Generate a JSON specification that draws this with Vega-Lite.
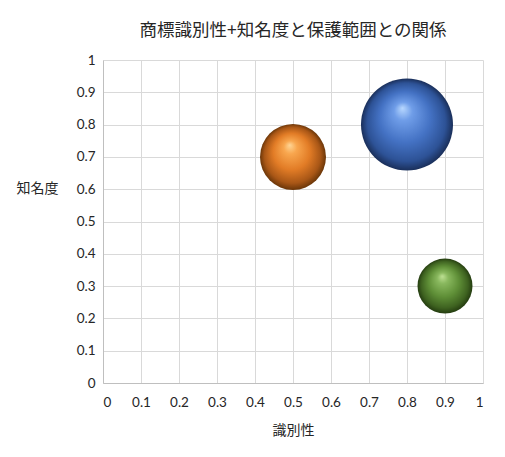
{
  "$schema": "https://vega.github.io/schema/vega-lite/v6.json",
  "width": 380,
  "height": 323,
  "autosize": {"type": "none"},
  "padding": {"left": 103, "top": 60, "right": 22, "bottom": 74},
  "background": "white",
  "config": {
    "font": "Lato, Noto Sans CJK JP",
    "view": {"stroke": null},
    "axis": {
      "gridColor": "#d9d9d9",
      "domainColor": "#bfbfbf",
      "ticks": false,
      "labelColor": "#262626",
      "titleColor": "#262626",
      "labelFont": "Lato, Noto Sans CJK JP",
      "titleFont": "Noto Sans CJK JP",
      "labelFontSize": 13.5,
      "titleFontSize": 14,
      "titleFontWeight": "normal"
    }
  },
  "title": {
    "text": "商標識別性+知名度と保護範囲との関係",
    "font": "Noto Sans CJK JP",
    "fontSize": 17.5,
    "fontWeight": "normal",
    "color": "#262626",
    "anchor": "middle",
    "frame": "group",
    "offset": 14
  },
  "data": {
    "values": [
      {"series": "A", "識別性": 0.8, "知名度": 0.8, "size": 28},
      {"series": "B", "識別性": 0.5, "知名度": 0.7, "size": 14.4},
      {"series": "C", "識別性": 0.9, "知名度": 0.3, "size": 10}
    ]
  },
  "encoding": {
    "x": {
      "field": "識別性", "type": "quantitative",
      "scale": {"domain": [0, 1], "nice": false},
      "axis": {"values": [0,0.1,0.2,0.3,0.4,0.5,0.6,0.7,0.8,0.9,1], "labelPadding": 12, "titleY": 47, "titleBaseline": "middle", "labelExpr": "datum.value === 0 ? '0' : datum.value === 1 ? '1' : datum.label"}
    },
    "y": {
      "field": "知名度", "type": "quantitative",
      "scale": {"domain": [0, 1], "nice": false},
      "axis": {"values": [0,0.1,0.2,0.3,0.4,0.5,0.6,0.7,0.8,0.9,1], "labelPadding": 8, "titleAngle": 0, "titleX": -66, "titleY": 128, "titleAlign": "center", "titleBaseline": "middle", "labelExpr": "datum.value === 0 ? '0' : datum.value === 1 ? '1' : datum.label"}
    },
    "size": {
      "field": "size", "type": "quantitative",
      "scale": {"domain": [0, 28], "range": [0, 8464]},
      "legend": null
    }
  },
  "layer": [
    {
      "transform": [{"filter": "datum.series === 'A'"}],
      "mark": {"type": "point", "shape": "circle", "filled": true, "opacity": 1,
        "fill": {"gradient": "radial", "x1": 0.45, "y1": 0.32, "r1": 0, "x2": 0.5, "y2": 0.5, "r2": 0.5,
          "stops": [
            {"offset": 0, "color": "#b8d8ff"},
            {"offset": 0.2, "color": "#6f9de8"},
            {"offset": 0.55, "color": "#4472c4"},
            {"offset": 0.85, "color": "#2d5296"},
            {"offset": 1, "color": "#1a2f5a"}
          ]}}
    },
    {
      "transform": [{"filter": "datum.series === 'B'"}],
      "mark": {"type": "point", "shape": "circle", "filled": true, "opacity": 1,
        "fill": {"gradient": "radial", "x1": 0.45, "y1": 0.32, "r1": 0, "x2": 0.5, "y2": 0.5, "r2": 0.5,
          "stops": [
            {"offset": 0, "color": "#ffd595"},
            {"offset": 0.2, "color": "#f8a64e"},
            {"offset": 0.55, "color": "#e27c26"},
            {"offset": 0.85, "color": "#a85616"},
            {"offset": 1, "color": "#6b3608"}
          ]}}
    },
    {
      "transform": [{"filter": "datum.series === 'C'"}],
      "mark": {"type": "point", "shape": "circle", "filled": true, "opacity": 1,
        "fill": {"gradient": "radial", "x1": 0.45, "y1": 0.32, "r1": 0, "x2": 0.5, "y2": 0.5, "r2": 0.5,
          "stops": [
            {"offset": 0, "color": "#bfe195"},
            {"offset": 0.2, "color": "#89b85e"},
            {"offset": 0.55, "color": "#5f8f37"},
            {"offset": 0.85, "color": "#3e6220"},
            {"offset": 1, "color": "#243c10"}
          ]}}
    }
  ]
}
